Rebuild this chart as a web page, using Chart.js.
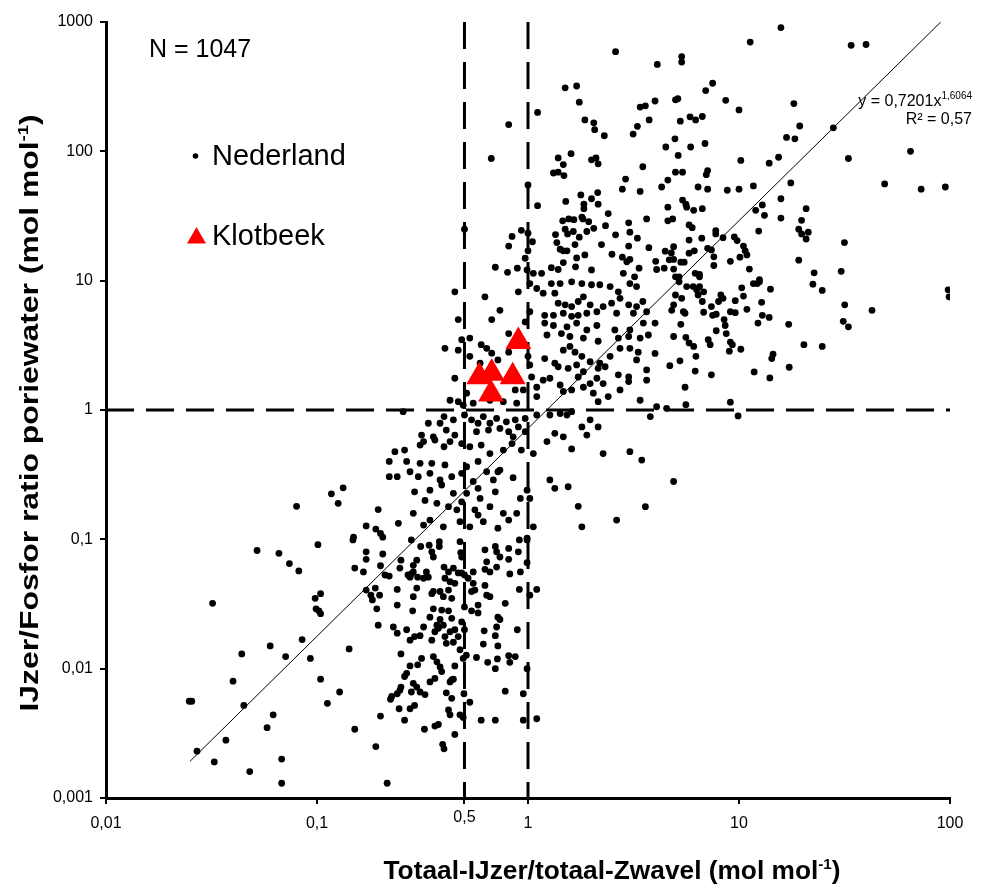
<!DOCTYPE html>
<html>
<head>
<meta charset="utf-8">
<script src="https://cdn.jsdelivr.net/npm/chart.js@4.4.0/dist/chart.umd.min.js"></script>
<style>
  html, body { margin: 0; padding: 0; background: #fff; }
</style>
</head>
<body>
<canvas id="myChart" width="1002" height="884"></canvas>
<script>
// axis ranges and tick values
const xTicks = [0.01, 0.1, 0.5, 1, 10, 100]
const yTicks = [0.001, 0.01, 0.1, 1, 10, 100, 1000]

// dashed reference lines
const refX = [0.5, 1]
const refY = [1]

// trendline y = 0,7201x^1,6064 (end points)
const trendX = [0.025, 90.4]
const trendY = [0.00192, 1000]

// Klotbeek samples
const klotX = [0.9, 0.588, 0.673, 0.846, 0.668]
const klotY = [3.38, 1.81, 1.92, 1.81, 1.33]

// Nederland samples [x, y]
const nederland = [
  // top middle
  [2.6,590],[4.1,470],[1.5,310],[1.7,320],[1.75,240],[1.86,175],[2.05,166],[2.07,147],[2.3,132],[3.4,220],[3.6,225],[4.0,245],[3.75,175],[3.3,156],[3.15,136],[1.11,200],[0.81,161],[0.67,88],[1.39,89],[1.47,79],[1.6,96],[1.32,68],[1.39,69],[1.48,65],[2.0,86],[2.1,89],[2.15,80],[4.5,108],[3.5,76],[2.9,61],[2.8,51],[3.4,49],[4.3,53],[4.6,60],[1.0,55],[1.11,38],[1.51,41],[1.78,46],[2.0,43],[2.14,48],[1.84,39],[1.84,36],[2.15,39],[2.4,33],[3.65,30],[4.6,37],[4.6,29],[3.0,28],[2.33,26.6],[1.46,29],[1.56,30],[1.65,29.6],[1.82,30],[1.94,28.6],[1.8,31],[1.5,25],[1.54,23],[1.64,24],[1.9,24],[2.05,25.4],[1.35,22.7],[1.75,21.7],[3.04,23.7],[2.6,22.6],[3.3,21.3],[0.5,25],[0.93,24.5],[0.84,22],[0.81,18.5],[1.0,23.3],[1.05,20],[1.0,17],[0.97,14.9],[1.37,19.7],[1.42,17.5],[1.47,17],[1.53,17],[1.67,19],[1.86,15.8],[1.7,15],[1.47,13.8],[2.23,19],[2.5,16],[2.8,15.2],[2.94,14],[3.04,14.6],[3.0,18.5],[3.74,18],[4.47,16.9],[4.67,14.5],[4.03,14.1],[4.42,12.5],[0.7,12.7],[0.8,11.6],[0.89,12.5],[0.99,12.1],[1.06,11.4],[1.16,11.4],[1.29,12.6],[1.39,12.2],[1.68,12.8],[2.0,12.1],[2.83,11.4],[3.2,10.7],[3.36,12.5],[4.07,12.2],
  // top right
  [15.8,905],[11.3,700],[34,660],[40,670],[5.35,540],[5.35,490],[7.5,336],[6.95,295],[5.0,250],[5.13,255],[8.65,248],[10,209],[18.2,234],[5.27,171],[5.86,185],[6.23,175],[6.7,186],[19.4,157],[28,152],[4.97,125],[6.9,115],[5.9,108],[16.8,128],[18.4,125],[65,100],[33,88],[5.15,93],[10.2,85],[13.9,81],[15.4,90],[5.0,69],[5.4,69],[7.0,66],[7.1,71],[6.4,53],[7.1,51],[8.8,50],[10,51],[11.7,54],[17.6,57],[49,56],[73,51],[95,53],[5.4,42],[5.6,39],[5.65,37],[6.1,35],[6.7,36],[15.8,43],[4.85,30],[5.8,27],[6.0,25.7],[12,35],[12.9,38.5],[13.2,32],[15.8,30.5],[20.8,36],[19.8,29.3],[19.2,25],[19.8,23],[21.3,23.7],[20.8,21],[7.76,24.4],[7.76,23],[8.4,21.5],[6.66,21.3],[9.5,21.8],[9.8,20.4],[12.4,24.2],[5.8,20.6],[4.9,18.3],[4.78,16.4],[7.1,17.8],[7.4,17.3],[10.5,18.5],[10.7,17],[10.9,15.8],[10.1,15.2],[9.1,14.1],[6.14,17],[5.8,16.3],[31.6,19.7],[19.2,14.4],[7.6,15.3],[7.6,13.1],[5.3,13.9],[5.5,13.9],[4.9,14.6],[4.9,12.3],[11.2,12.3],[22.7,11.5],[30.5,11.8],[6.2,11.4],[6.5,11.2],[6.5,10.7],[5.0,10.7],[5.2,10.7],[12.5,10.2],
  // middle right
  [5.2,9.8],[5.65,9.0],[6.07,9.0],[6.3,8.5],[6.5,9.0],[6.8,8.2],[6.4,7.75],[5.0,7.75],[5.35,7.3],[4.9,6.5],[4.8,5.9],[5.45,5.75],[5.55,5.6],[6.7,6.9],[6.8,5.7],[7.4,6.3],[7.5,5.4],[7.8,5.5],[8.2,7.75],[8.4,7.3],[8.0,6.9],[10.3,8.8],[10.5,7.6],[9.6,7.0],[11.7,9.5],[12.2,9.5],[12.5,9.8],[14.1,8.6],[12.8,6.8],[10.9,6.0],[9.1,5.75],[9.6,5.66],[12.9,5.4],[13.9,5.2],[12.3,4.7],[8.5,5.0],[8.6,4.5],[8.7,3.9],[7.8,4.1],[5.3,4.6],[4.9,3.7],[5.6,3.65],[5.8,3.3],[6.1,3.1],[6.25,2.6],[7.15,3.5],[7.3,3.2],[9.1,3.35],[9.3,3.2],[9.0,2.85],[10.2,2.95],[22.4,9.4],[24.8,8.4],[17.2,4.6],[31.7,6.5],[31.2,4.85],[33,4.4],[42.7,5.9],[20.3,3.2],[24.8,3.1],[98,8.5],[99,7.5],[14.5,2.7],[14.3,2.5],[5.25,2.4],[4.7,2.2],[11.8,1.97],[14,1.77],[17.3,2.14],[6.2,2.0],[7.4,1.87],[5.55,1.5],[5.6,1.1],[9.1,1.15],[9.9,0.9],[4.9,0.28],
  // bottom left
  [0.052,0.082],[0.066,0.078],[0.074,0.065],[0.082,0.057],[0.101,0.091],[0.148,0.099],[0.171,0.08],[0.171,0.07],[0.205,0.077],[0.151,0.06],[0.166,0.056],[0.2,0.0625],[0.21,0.053],[0.22,0.052],[0.032,0.032],[0.098,0.035],[0.104,0.038],[0.099,0.029],[0.102,0.028],[0.104,0.0266],[0.171,0.0405],[0.189,0.042],[0.18,0.037],[0.183,0.034],[0.198,0.037],[0.192,0.029],[0.195,0.0217],[0.085,0.0168],[0.06,0.015],[0.044,0.013],[0.071,0.0124],[0.093,0.012],[0.142,0.0142],[0.04,0.008],[0.104,0.0083],[0.0248,0.0056],[0.0255,0.0056],[0.045,0.0052],[0.112,0.0054],[0.128,0.0066],[0.062,0.0044],[0.058,0.0035],[0.2,0.0043],[0.151,0.0034],[0.037,0.0028],[0.027,0.0023],[0.19,0.0025],[0.0326,0.0019],[0.048,0.0016],[0.068,0.002],[0.068,0.0013],[0.215,0.0013],[0.223,0.0058],
  [0.22,0.4],[0.22,0.305],[0.117,0.225],[0.133,0.25],[0.126,0.19],[0.08,0.18],[0.195,0.17],[0.171,0.127],[0.19,0.12],[0.2,0.111],[0.205,0.104],[0.149,0.104],
  // bottom middle
  [0.28,0.099],[0.31,0.088],[0.34,0.09],[0.38,0.096],[0.38,0.088],[0.35,0.08],[0.356,0.073],[0.476,0.096],[0.48,0.079],[0.485,0.073],[0.25,0.069],[0.247,0.06],[0.286,0.063],[0.297,0.069],[0.286,0.056],[0.3,0.051],[0.32,0.05],[0.33,0.056],[0.337,0.051],[0.276,0.051],[0.28,0.054],[0.27,0.053],[0.4,0.061],[0.42,0.056],[0.443,0.06],[0.404,0.05],[0.427,0.047],[0.45,0.0457],[0.467,0.055],[0.485,0.055],[0.5,0.053],[0.52,0.05],[0.55,0.056],[0.625,0.083],[0.7,0.088],[0.71,0.08],[0.81,0.085],[0.736,0.073],[0.81,0.07],[0.9,0.08],[0.99,0.099],[0.91,0.099],[0.637,0.067],[0.625,0.0586],[0.66,0.056],[0.71,0.061],[0.99,0.066],[0.82,0.054],[0.92,0.056],[0.24,0.041],[0.297,0.042],[0.286,0.036],[0.35,0.038],[0.356,0.0395],[0.383,0.0395],[0.42,0.0405],[0.397,0.036],[0.435,0.035],[0.55,0.0457],[0.625,0.044],[0.56,0.0405],[0.54,0.0395],[0.637,0.037],[0.66,0.036],[0.91,0.041],[1.1,0.041],[1.02,0.037],[0.78,0.032],[0.24,0.031],[0.284,0.028],[0.356,0.029],[0.39,0.0284],[0.42,0.028],[0.435,0.0245],[0.383,0.024],[0.37,0.0217],[0.397,0.0217],[0.376,0.0205],[0.362,0.0193],[0.343,0.025],[0.35,0.0166],[0.404,0.0177],[0.427,0.0193],[0.45,0.02],[0.467,0.0177],[0.41,0.0157],[0.443,0.016],[0.485,0.023],[0.5,0.02],[0.5,0.03],[0.54,0.028],[0.58,0.031],[0.58,0.027],[0.23,0.021],[0.24,0.0188],[0.266,0.02],[0.276,0.0166],[0.29,0.0177],[0.308,0.018],[0.32,0.021],[0.62,0.0196],[0.614,0.0155],[0.7,0.018],[0.71,0.021],[0.72,0.025],[0.736,0.024],[0.72,0.015],[0.89,0.02],[0.25,0.013],[0.313,0.012],[0.356,0.0124],[0.37,0.0113],[0.383,0.0103],[0.39,0.0095],[0.276,0.0105],[0.266,0.0092],[0.26,0.0087],[0.3,0.0107],[0.45,0.0105],[0.435,0.0082],[0.443,0.0083],[0.427,0.0079],[0.476,0.014],[0.493,0.012],[0.51,0.0127],[0.57,0.0122],[0.644,0.0112],[0.716,0.0119],[0.7,0.01],[0.81,0.0126],[0.87,0.0124],[0.82,0.0112],[0.99,0.01],[0.226,0.0061],[0.24,0.0064],[0.25,0.0072],[0.247,0.0068],[0.286,0.0077],[0.297,0.0072],[0.28,0.0066],[0.308,0.0066],[0.325,0.0063],[0.343,0.0079],[0.362,0.0084],[0.41,0.0065],[0.435,0.0059],[0.497,0.0064],[0.53,0.0055],[0.78,0.0067],[0.95,0.0064],[0.245,0.0049],[0.276,0.0049],[0.29,0.0052],[0.26,0.004],[0.42,0.0048],[0.427,0.0044],[0.476,0.0044],[0.493,0.0042],[0.6,0.004],[0.7,0.004],[0.95,0.004],[1.1,0.0041],[0.323,0.0034],[0.362,0.0036],[0.376,0.0037],[0.45,0.0031],[0.394,0.0026],[0.4,0.0024],
  // centre
  [1.02,9.5],[1.1,8.7],[1.18,8.0],[1.29,9.5],[1.42,9.5],[1.34,8.0],[1.61,9.8],[1.8,9.5],[2.0,9.3],[2.19,9.3],[2.45,9.0],[2.68,8.2],[3.04,9.5],[3.27,9.0],[0.9,8.2],[0.45,8.2],[0.625,7.5],[1.39,6.7],[1.5,6.5],[1.61,6.3],[1.73,6.9],[1.83,7.5],[1.97,6.5],[2.27,6.3],[2.49,6.7],[2.73,7.3],[3.0,6.5],[3.27,6.3],[3.5,6.9],[1.02,5.75],[1.2,5.4],[1.32,5.4],[1.47,5.6],[1.61,5.3],[1.73,5.4],[1.9,5.6],[2.12,5.75],[2.63,5.6],[3.16,5.6],[3.65,5.75],[0.736,5.9],[0.467,5.0],[0.673,5.0],[0.97,4.8],[1.2,4.7],[1.32,4.5],[1.53,4.4],[1.7,4.7],[1.9,4.16],[2.12,4.5],[2.58,4.16],[3.04,4.16],[3.52,4.7],[4.0,4.7],[0.81,3.9],[1.23,3.8],[1.44,3.9],[1.58,3.7],[1.83,3.6],[2.15,3.4],[2.68,3.6],[3.0,3.7],[3.4,3.6],[3.72,3.8],[0.53,3.6],[0.485,3.5],[0.6,3.2],[0.404,3.0],[0.467,2.9],[0.637,3.0],[0.673,2.75],[0.53,2.6],[0.593,2.3],[0.72,2.44],[0.81,2.8],[1.0,2.6],[1.02,2.23],[1.2,2.5],[1.34,2.3],[1.47,2.9],[1.58,3.1],[1.67,2.8],[1.8,2.6],[1.97,2.36],[2.19,2.3],[2.45,2.6],[2.73,3.0],[3.04,3.0],[3.33,2.8],[4.0,2.74],[1.39,2.16],[1.55,2.1],[1.7,2.23],[1.83,1.98],[2.15,2.1],[2.32,2.16],[2.68,1.87],[3.0,1.8],[3.27,2.44],[3.65,2.04],[0.45,1.76],[1.04,1.8],[1.1,1.5],[1.18,1.7],[1.27,1.76],[1.42,1.56],[1.47,1.39],[1.61,1.43],[1.73,1.8],[1.83,1.5],[1.97,1.6],[2.12,1.76],[2.27,1.6],[2.04,1.35],[2.15,1.16],[2.4,1.27],[2.73,1.43],[3.0,1.66],[3.4,1.19],[3.65,1.7],[4.07,1.06],[4.54,1.03],[0.427,1.19],[0.467,1.16],[0.493,1.09],[0.55,1.13],[0.512,1.35],[0.66,1.19],[0.764,1.16],[0.884,1.13],[0.95,1.43],[1.1,1.27],[0.87,1.43],
  [0.256,0.97],[0.4,0.89],[0.337,0.79],[0.383,0.79],[0.443,0.84],[0.5,0.915],[0.54,0.84],[0.58,0.79],[0.614,0.89],[0.66,0.79],[0.71,0.86],[0.79,0.81],[0.87,0.84],[0.9,0.74],[0.97,0.86],[1.1,0.915],[1.27,0.915],[1.42,0.94],[1.53,0.915],[1.61,0.97],[1.8,0.74],[1.97,0.84],[2.15,0.74],[3.8,0.89],[0.313,0.64],[0.356,0.62],[0.41,0.7],[0.45,0.64],[0.57,0.68],[0.65,0.7],[0.736,0.72],[0.81,0.68],[0.85,0.62],[0.97,0.68],[1.34,0.66],[1.47,0.62],[1.9,0.64],[0.234,0.476],[0.26,0.49],[0.308,0.536],[0.32,0.57],[0.362,0.586],[0.4,0.52],[0.427,0.57],[0.485,0.55],[0.53,0.52],[0.6,0.536],[0.66,0.46],[0.764,0.49],[0.84,0.55],[0.93,0.49],[1.06,0.46],[1.23,0.57],[1.61,0.5],[2.27,0.46],[3.04,0.476],[3.46,0.41],[0.266,0.4],[0.308,0.387],[0.35,0.387],[0.404,0.376],[0.512,0.364],[0.58,0.4],[0.637,0.333],[0.736,0.343],[0.85,0.3],[0.24,0.305],[0.276,0.333],[0.302,0.305],[0.343,0.324],[0.383,0.288],[0.435,0.305],[0.485,0.324],[0.55,0.28],[0.58,0.248],[0.685,0.288],[0.72,0.333],[0.29,0.233],[0.343,0.24],[0.39,0.263],[0.443,0.227],[0.512,0.227],[0.593,0.207],[0.7,0.233],[0.99,0.24],[1.27,0.288],[1.34,0.248],[1.55,0.255],[1.73,0.18],[0.325,0.2],[0.37,0.19],[0.42,0.179],[0.485,0.195],[0.56,0.169],[0.66,0.179],[0.764,0.159],[0.92,0.207],[1.02,0.207],[3.6,0.179],[0.243,0.133],[0.286,0.159],[0.32,0.129],[0.343,0.141],[0.397,0.125],[0.46,0.169],[0.476,0.137],[0.53,0.125],[0.58,0.154],[0.614,0.137],[0.72,0.122],[0.81,0.141],[0.884,0.159],[0.99,0.102],[1.06,0.125],[1.8,0.125],[2.63,0.141]
]

const FONT = "'Liberation Sans', Arial, sans-serif"
const fmt = v => String(v).replace(".", ",")

// draws text made of pieces (normal + superscript), stretched to a given width
function richText(ctx, parts, x, y, align, width) {
  let w = 0
  parts.forEach(p => { ctx.font = p.font; p.w = ctx.measureText(p.t).width; w += p.w })
  const s = width ? width / w : 1
  ctx.save()
  ctx.translate(x, y)
  ctx.scale(s, 1)
  let cx = align == "center" ? -w / 2 : align == "right" ? -w : 0
  ctx.textAlign = "left"
  ctx.textBaseline = "alphabetic"
  parts.forEach(p => {
    ctx.font = p.font
    ctx.fillText(p.t, cx, p.dy || 0)
    cx += p.w
  })
  ctx.restore()
}

const labels = {
  id: "labels",
  afterDraw(chart) {
    const ctx = chart.ctx
    ctx.save()
    ctx.fillStyle = "#000"

    ctx.font = "25px " + FONT
    ctx.fillText("N = 1047", 149, 57)

    // legend
    ctx.beginPath()
    ctx.arc(195.5, 156, 2.8, 0, Math.PI * 2)
    ctx.fill()
    ctx.font = "29px " + FONT
    ctx.fillText("Nederland", 212, 165)
    ctx.fillStyle = "#ff0000"
    ctx.beginPath()
    const r = 11, tx = 196.5, ty = 238
    ctx.moveTo(tx, ty - r)
    ctx.lineTo(tx + r * 0.866, ty + r / 2)
    ctx.lineTo(tx - r * 0.866, ty + r / 2)
    ctx.closePath()
    ctx.fill()
    ctx.fillStyle = "#000"
    ctx.fillText("Klotbeek", 212, 245)

    // the 0,5 tick label sits a bit higher than the others
    ctx.font = "16px " + FONT
    ctx.textAlign = "center"
    ctx.fillText("0,5", chart.scales.x.getPixelForValue(0.5), 822)
    ctx.textAlign = "left"

    // trendline label
    richText(ctx, [
      { t: "y = 0,7201x", font: "16px " + FONT },
      { t: "1,6064", font: "10px " + FONT, dy: -7 }
    ], 972, 106, "right")
    richText(ctx, [{ t: "R² = 0,57", font: "16px " + FONT }], 972, 124, "right")

    // axis titles
    const bold = "bold 26px " + FONT
    const sup = "bold 15px " + FONT
    richText(ctx, [
      { t: "Totaal-IJzer/totaal-Zwavel (mol mol", font: bold },
      { t: "-1", font: sup, dy: -10 },
      { t: ")", font: bold }
    ], 612, 879, "center", 457)

    ctx.save()
    ctx.translate(38, 413)
    ctx.rotate(-Math.PI / 2)
    richText(ctx, [
      { t: "IJzer/Fosfor ratio poriewater (mol mol", font: bold },
      { t: "-1", font: sup, dy: -10 },
      { t: ")", font: bold }
    ], 0, 0, "center", 597)
    ctx.restore()

    ctx.restore()
  }
}

const tickFont = { family: FONT, size: 16 }

const config = {
  type: "scatter",
  data: {
    datasets: [
      {
        label: "Klotbeek",
        data: klotX.map((x, i) => ({ x: x, y: klotY[i] })),
        pointStyle: "triangle",
        pointRadius: 15,
        backgroundColor: "#ff0000",
        borderWidth: 0,
        order: 0
      },
      {
        label: "trend",
        data: trendX.map((x, i) => ({ x: x, y: trendY[i] })),
        showLine: true,
        borderColor: "#000",
        borderWidth: 1,
        pointRadius: 0,
        order: 1
      },
      ...refX.map(v => ({
        label: "ref x " + v,
        data: [{ x: v, y: yTicks[yTicks.length - 1] }, { x: v, y: yTicks[0] }],
        showLine: true,
        borderColor: "#000",
        borderWidth: 3,
        borderDash: [27, 13],
        pointRadius: 0,
        order: 2
      })),
      ...refY.map(v => ({
        label: "ref y " + v,
        data: [{ x: xTicks[0], y: v }, { x: xTicks[xTicks.length - 1], y: v }],
        showLine: true,
        borderColor: "#000",
        borderWidth: 3,
        borderDash: [28, 12],
        pointRadius: 0,
        order: 2
      })),
      {
        label: "Nederland",
        data: nederland.map(p => ({ x: p[0], y: p[1] })),
        pointRadius: 3.4,
        backgroundColor: "#000",
        borderWidth: 0,
        order: 3
      }
    ]
  },
  options: {
    responsive: false,
    animation: false,
    devicePixelRatio: 1,
    layout: { padding: { top: 22, right: 52, left: 0, bottom: 0 } },
    plugins: { legend: { display: false }, tooltip: { enabled: false } },
    scales: {
      x: {
        type: "logarithmic",
        min: 0.01,
        max: 100,
        afterFit: s => { s.height = 86 },
        afterBuildTicks: s => { s.ticks = xTicks.map(v => ({ value: v })) },
        ticks: { autoSkip: false, maxRotation: 0, font: tickFont, color: "#000", padding: 10, callback: v => v == 0.5 ? "" : fmt(v) },
        grid: { drawOnChartArea: false, tickLength: 6, lineWidth: 2, color: "#000" },
        border: { color: "#000", width: 3 }
      },
      y: {
        type: "logarithmic",
        min: 0.001,
        max: 1000,
        afterFit: s => { s.width = 106 },
        afterBuildTicks: s => { s.ticks = yTicks.map(v => ({ value: v })) },
        ticks: { autoSkip: false, font: tickFont, color: "#000", padding: 7, callback: v => fmt(v) },
        grid: { drawOnChartArea: false, tickLength: 6, lineWidth: 2, color: "#000" },
        border: { color: "#000", width: 3 }
      }
    }
  },
  plugins: [labels]
}

const myChart = new Chart(document.getElementById("myChart"), config)
</script>
</body>
</html>
